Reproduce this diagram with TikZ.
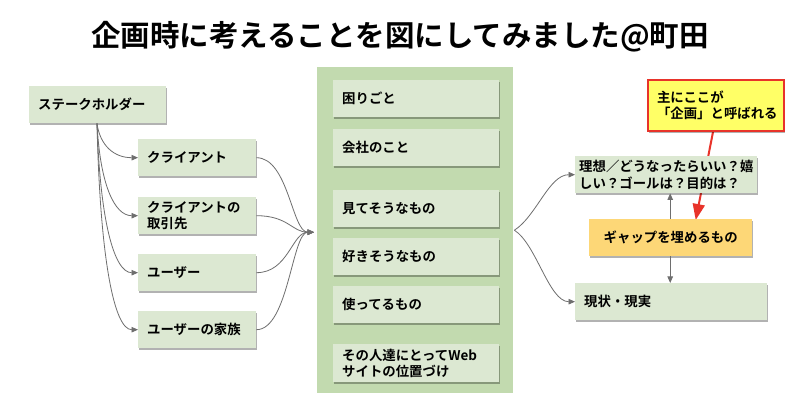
\documentclass[tikz,border=0pt]{standalone}
\usepackage{fontspec}
\setmainfont{Noto Sans CJK JP}[BoldFont={Noto Sans CJK JP Bold}]
\usetikzlibrary{arrows.meta,shadows}
\definecolor{boxg}{HTML}{DCE8D2}
\definecolor{panelg}{HTML}{C2DAAF}
\definecolor{gapy}{HTML}{FDD777}
\definecolor{cally}{HTML}{FFFF66}
\definecolor{callr}{HTML}{E8332A}
\definecolor{linegr}{HTML}{6E6E6E}
\pgfdeclarelayer{bg}
\pgfsetlayers{bg,main}
\tikzset{
  shad/.style={drop shadow={shadow xshift=1pt,shadow yshift=-1.6pt,opacity=0.3,fill=black}},
  bx/.style={rectangle,fill=boxg,anchor=north west,inner xsep=9pt,inner ysep=0pt,
    minimum height=37pt,align=left,font=\bfseries\fontsize{13.4}{16.5}\selectfont,shad},
  conn/.style={draw=linegr,line width=0.8pt,-{Triangle[length=6.5pt,width=5.5pt]}},
  redarr/.style={draw=callr,line width=2pt,-{Triangle[length=16pt,width=12pt]}},
}
\begin{document}
\begin{tikzpicture}[x=1pt,y=-1pt]
\useasboundingbox (0,0) rectangle (800,419);
\begin{pgfonlayer}{bg}
\fill[white] (0,0) rectangle (800,419);
\end{pgfonlayer}
\node[font=\bfseries\fontsize{29.5}{32}\selectfont] (title) at (400,37) {企画時に考えることを図にしてみました@町田};

% left column
\node[bx,text width=119pt] (sh) at (29,86) {ステークホルダー};
\node[bx,text width=100pt] (cl) at (138,139) {クライアント};
\node[bx,text width=100pt] (tr) at (138,197) {クライアントの\\取引先};
\node[bx,text width=100pt] (us) at (138,254) {ユーザー};
\node[bx,text width=100pt] (fa) at (138,311) {ユーザーの家族};

% middle panel
\node[rectangle,fill=panelg,anchor=north west,minimum width=196pt,minimum height=326pt,inner sep=0pt] (panel) at (317,67) {};
\node[bx,text width=148pt] (m1) at (333,80) {困りごと};
\node[bx,text width=148pt] (m2) at (333,129) {会社のこと};
\node[bx,text width=148pt] (m3) at (333,190) {見てそうなもの};
\node[bx,text width=148pt] (m4) at (333,238) {好きそうなもの};
\node[bx,text width=148pt] (m5) at (333,286) {使ってるもの};
\node[bx,text width=148pt,minimum height=38pt] (m6) at (333,344) {その人達にとってWeb\\サイトの位置づけ};

% right
\node[bx,text width=174pt,inner xsep=4pt] (ri) at (575,156) {理想／どうなったらいい？嬉\\しい？ゴールは？目的は？};
\node[bx,fill=gapy,text width=145pt,align=center] (gp) at (589,219) {ギャップを埋めるもの};
\node[bx,text width=174pt] (gj) at (575,283) {現状・現実};
\node[bx,fill=cally,draw=callr,line width=2pt,text width=118pt,minimum height=51pt] (co) at (647,79) {主にここが\\「企画」と呼ばれる};

% connectors from stakeholder
\coordinate (shs) at ([xshift=68pt]sh.south west);
\foreach \t/\h in {cl/34,tr/92,us/149,fa/207}{
  \draw[conn] (shs) .. controls +(3,0.65*\h) and +(-24,0) .. (\t.west);
}
% merge into panel
\coordinate (mg) at ([xshift=-3pt,yshift=-2pt]panel.west);
\foreach \s in {cl,tr,us,fa}{
  \draw[conn] (\s.east) .. controls +(32,0) and +(-22,0) .. (mg);
}
% out of panel
\coordinate (po) at ([xshift=1pt]panel.east);
\draw[conn] (po) .. controls +(22,-14) and +(-26,0) .. (ri.west);
\draw[conn] (po) .. controls +(22,14) and +(-26,0) .. (gj.west);
% gap arrows
\draw[conn] ([xshift=-0.5pt]gp.north) -- ([xshift=-0.5pt]gp.north |- ri.south);
\draw[conn] ([xshift=-0.5pt]gp.south) -- ([xshift=-0.5pt]gp.south |- gj.north);
% red callout arrow (behind the boxes)
\begin{pgfonlayer}{bg}
\draw[redarr] ([xshift=-3pt]co.south) -- ([xshift=25pt,yshift=-1pt]gp.north);
\end{pgfonlayer}
\end{tikzpicture}
\end{document}
